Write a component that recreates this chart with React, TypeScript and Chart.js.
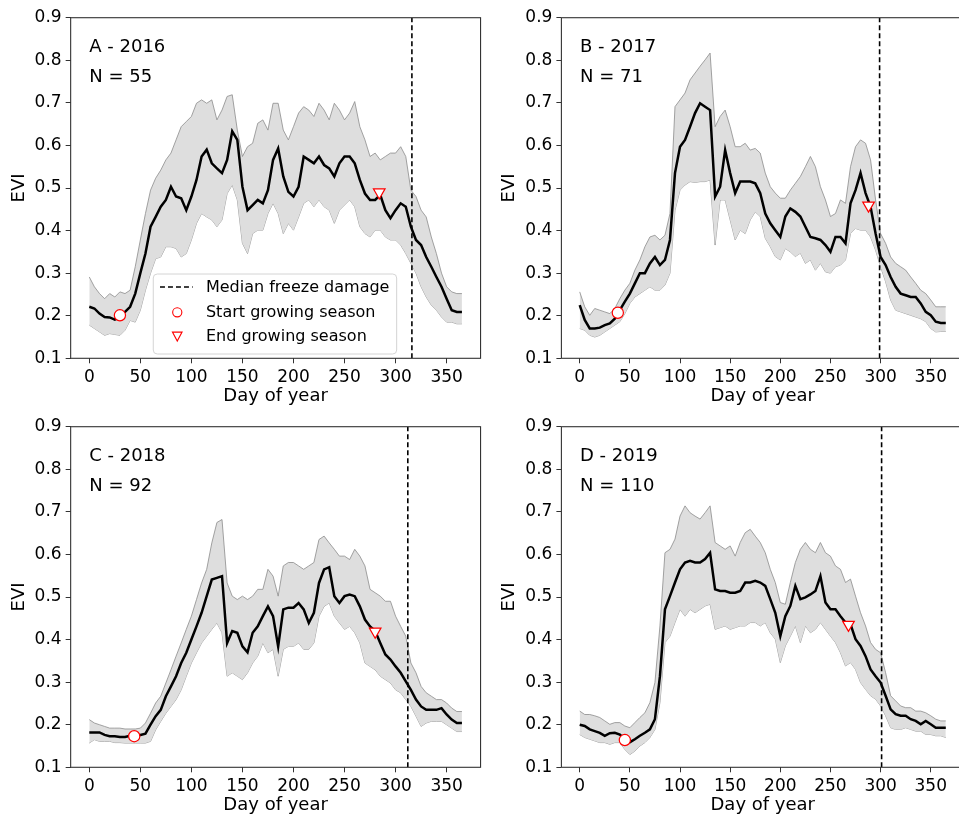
import React, { useEffect, useRef } from 'react';
import { Chart, registerables } from 'chart.js';

Chart.register(...registerables);

const FONT = '"DejaVu Sans", "Liberation Sans", sans-serif';

// ---------- data ----------
const DAYS = [
  0, 5, 10, 15, 20, 25, 30, 35, 40, 45,
  50, 55, 60, 65, 70, 75, 80, 85, 90, 95,
  100, 105, 110, 115, 120, 125, 130, 135, 140, 145,
  150, 155, 160, 165, 170, 175, 180, 185, 190, 195,
  200, 205, 210, 215, 220, 225, 230, 235, 240, 245,
  250, 255, 260, 265, 270, 275, 280, 285, 290, 295,
  300, 305, 310, 315, 320, 325, 330, 335, 340, 345,
  350, 355, 360, 365,
];

const X_TICKS = [0, 50, 100, 150, 200, 250, 300, 350];
const Y_TICKS = [0.1, 0.2, 0.3, 0.4, 0.5, 0.6, 0.7, 0.8, 0.9];

const PANEL_LABELS = ['A - 2016', 'B - 2017', 'C - 2018', 'D - 2019'];
const PANEL_N = [55, 71, 92, 110];
const FREEZE_DAY = [316, 299, 312, 301];
const START_DAY = [30, 38, 44, 45];
const START_EVI = [0.201, 0.207, 0.173, 0.164];
const END_DAY = [284, 288, 280, 268];
const END_EVI = [0.49, 0.459, 0.419, 0.435];

const LEGEND_LABELS = ['Median freeze damage', 'Start growing season', 'End growing season'];

const A_MEAN = [
  0.221, 0.217, 0.205, 0.197, 0.196, 0.191, 0.197, 0.209, 0.221, 0.252,
  0.30, 0.346, 0.409, 0.432, 0.456, 0.472, 0.503, 0.48, 0.476, 0.448,
  0.48, 0.519, 0.574, 0.59, 0.558, 0.546, 0.535, 0.566, 0.633, 0.613,
  0.503, 0.448, 0.46, 0.472, 0.464, 0.495, 0.566, 0.593, 0.527, 0.491,
  0.48, 0.503, 0.574, 0.566, 0.558, 0.574, 0.554, 0.546, 0.527, 0.558,
  0.574, 0.574, 0.558, 0.519, 0.487, 0.472, 0.472, 0.484, 0.448, 0.429,
  0.448, 0.464, 0.456, 0.409, 0.378, 0.366, 0.338, 0.315, 0.291, 0.268,
  0.24, 0.213, 0.209, 0.209,
];
const A_UPPER = [
  0.291, 0.268, 0.252, 0.24, 0.252, 0.244, 0.256, 0.252, 0.26, 0.315,
  0.378, 0.44, 0.495, 0.523, 0.542, 0.566, 0.582, 0.613, 0.644, 0.656,
  0.668, 0.699, 0.707, 0.699, 0.707, 0.66, 0.683, 0.715, 0.719, 0.636,
  0.574, 0.597, 0.605, 0.652, 0.66, 0.636, 0.699, 0.699, 0.636, 0.613,
  0.644, 0.676, 0.691, 0.683, 0.668, 0.699, 0.683, 0.66, 0.699, 0.683,
  0.66, 0.676, 0.703, 0.644, 0.613, 0.574, 0.582, 0.566, 0.574, 0.582,
  0.582, 0.597, 0.574, 0.495, 0.48, 0.448, 0.432, 0.385, 0.346, 0.30,
  0.268, 0.256, 0.252, 0.252,
];
const A_LOWER = [
  0.178, 0.17, 0.162, 0.154, 0.158, 0.156, 0.154, 0.166, 0.189, 0.185,
  0.213, 0.26, 0.30, 0.334, 0.338, 0.362, 0.362, 0.358, 0.338, 0.346,
  0.378, 0.417, 0.44, 0.432, 0.425, 0.409, 0.425, 0.487, 0.507, 0.472,
  0.37, 0.346, 0.393, 0.401, 0.401, 0.44, 0.464, 0.44, 0.393, 0.417,
  0.401, 0.432, 0.464, 0.472, 0.456, 0.472, 0.456, 0.448, 0.417, 0.448,
  0.46, 0.472, 0.456, 0.409, 0.393, 0.385, 0.401, 0.401, 0.385, 0.378,
  0.378, 0.366, 0.346, 0.323, 0.30, 0.268, 0.244, 0.225, 0.213, 0.197,
  0.185, 0.185, 0.181, 0.181,
];

const B_MEAN = [
  0.225, 0.19, 0.17, 0.17, 0.172, 0.178, 0.182, 0.193, 0.213, 0.233,
  0.252, 0.276, 0.30, 0.30, 0.323, 0.338, 0.319, 0.331, 0.378, 0.535,
  0.597, 0.613, 0.644, 0.676, 0.699, 0.691, 0.683, 0.48, 0.503, 0.589,
  0.535, 0.488, 0.515, 0.515, 0.515, 0.511, 0.488, 0.44, 0.417, 0.401,
  0.385, 0.433, 0.452, 0.444, 0.433, 0.409, 0.385, 0.382, 0.378, 0.366,
  0.35, 0.385, 0.385, 0.37, 0.464, 0.495, 0.535, 0.488, 0.456, 0.393,
  0.338, 0.319, 0.291, 0.268, 0.252, 0.248, 0.244, 0.244, 0.229, 0.209,
  0.201, 0.186, 0.183, 0.183,
];
const B_UPPER = [
  0.256, 0.221, 0.201, 0.217, 0.213, 0.209, 0.205, 0.217, 0.24, 0.26,
  0.276, 0.307, 0.331, 0.362, 0.385, 0.389, 0.378, 0.389, 0.44, 0.691,
  0.707, 0.723, 0.754, 0.77, 0.786, 0.801, 0.817, 0.644, 0.668, 0.683,
  0.644, 0.597, 0.597, 0.605, 0.589, 0.593, 0.582, 0.535, 0.503, 0.488,
  0.476, 0.476, 0.495, 0.511, 0.527, 0.55, 0.574, 0.55, 0.503, 0.472,
  0.433, 0.44, 0.472, 0.464, 0.55, 0.597, 0.613, 0.605, 0.566, 0.472,
  0.393, 0.37, 0.338, 0.323, 0.315, 0.307, 0.291, 0.276, 0.26, 0.252,
  0.237, 0.221, 0.221, 0.221,
];
const B_LOWER = [
  0.17, 0.166, 0.154, 0.15, 0.154, 0.162, 0.17, 0.178, 0.186, 0.205,
  0.229, 0.244, 0.252, 0.26, 0.268, 0.26, 0.26, 0.272, 0.30, 0.448,
  0.495, 0.507, 0.515, 0.513, 0.515, 0.515, 0.519, 0.366, 0.472, 0.472,
  0.425, 0.378, 0.401, 0.393, 0.425, 0.444, 0.433, 0.382, 0.362, 0.339,
  0.331, 0.358, 0.35, 0.339, 0.347, 0.323, 0.331, 0.307, 0.323, 0.303,
  0.30, 0.315, 0.319, 0.331, 0.393, 0.405, 0.401, 0.401, 0.385, 0.354,
  0.315, 0.28, 0.237, 0.213, 0.209, 0.205, 0.201, 0.197, 0.193, 0.186,
  0.17, 0.162, 0.163, 0.163,
];

const C_MEAN = [
  0.182, 0.182, 0.182, 0.176, 0.173, 0.173, 0.171, 0.171, 0.174, 0.173,
  0.176, 0.179, 0.2, 0.22, 0.235, 0.267, 0.29, 0.314, 0.345, 0.369,
  0.40, 0.431, 0.463, 0.502, 0.541, 0.545, 0.549, 0.392, 0.42, 0.416,
  0.384, 0.37, 0.416, 0.431, 0.455, 0.478, 0.455, 0.384, 0.471, 0.475,
  0.475, 0.486, 0.471, 0.439, 0.463, 0.533, 0.565, 0.57, 0.502, 0.486,
  0.502, 0.506, 0.502, 0.478, 0.447, 0.431, 0.42, 0.392, 0.365, 0.353,
  0.337, 0.322, 0.302, 0.282, 0.259, 0.243, 0.235, 0.235, 0.235, 0.239,
  0.224, 0.212, 0.204, 0.204,
];
const C_UPPER = [
  0.212, 0.204, 0.2, 0.196, 0.192, 0.192, 0.192, 0.19, 0.19, 0.19,
  0.192, 0.204, 0.227, 0.251, 0.267, 0.298, 0.329, 0.361, 0.392, 0.424,
  0.455, 0.494, 0.533, 0.565, 0.627, 0.675, 0.682, 0.533, 0.502, 0.494,
  0.502, 0.494, 0.502, 0.518, 0.518, 0.565, 0.549, 0.502, 0.573, 0.581,
  0.581, 0.573, 0.565, 0.573, 0.581, 0.635, 0.643, 0.627, 0.612, 0.596,
  0.596, 0.588, 0.612, 0.596, 0.573, 0.518, 0.51, 0.502, 0.49, 0.49,
  0.455, 0.431, 0.408, 0.345, 0.322, 0.29, 0.275, 0.267, 0.259, 0.259,
  0.251, 0.239, 0.231, 0.231,
];
const C_LOWER = [
  0.157, 0.165, 0.161, 0.161, 0.161, 0.158, 0.158, 0.157, 0.157, 0.157,
  0.157, 0.157, 0.161, 0.188, 0.208, 0.227, 0.243, 0.259, 0.282, 0.314,
  0.345, 0.369, 0.392, 0.408, 0.424, 0.439, 0.416, 0.314, 0.322, 0.314,
  0.306, 0.322, 0.345, 0.361, 0.392, 0.369, 0.377, 0.314, 0.377, 0.384,
  0.384, 0.392, 0.377, 0.377, 0.392, 0.455, 0.478, 0.486, 0.455, 0.439,
  0.424, 0.431, 0.416, 0.392, 0.345, 0.337, 0.329, 0.314, 0.306, 0.298,
  0.282, 0.275, 0.259, 0.243, 0.22, 0.196, 0.204, 0.208, 0.208, 0.208,
  0.2, 0.192, 0.184, 0.184,
];

const D_MEAN = [
  0.2, 0.197, 0.189, 0.185, 0.181, 0.174, 0.18, 0.181, 0.177, 0.166,
  0.159, 0.166, 0.174, 0.181, 0.189, 0.213, 0.314, 0.471, 0.502, 0.534,
  0.565, 0.581, 0.585, 0.581, 0.581, 0.589, 0.604, 0.518, 0.514, 0.514,
  0.51, 0.51, 0.514, 0.534, 0.534, 0.538, 0.534, 0.526, 0.495, 0.463,
  0.408, 0.455, 0.479, 0.526, 0.495, 0.499, 0.506, 0.514, 0.549, 0.487,
  0.471, 0.471, 0.455, 0.44, 0.436, 0.401, 0.385, 0.361, 0.33, 0.314,
  0.299, 0.268, 0.236, 0.225, 0.221, 0.221, 0.213, 0.209, 0.201, 0.209,
  0.201, 0.193, 0.193, 0.193,
];
const D_UPPER = [
  0.232, 0.224, 0.224, 0.221, 0.217, 0.209, 0.201, 0.205, 0.205, 0.197,
  0.193, 0.205, 0.217, 0.228, 0.252, 0.299, 0.432, 0.604, 0.612, 0.636,
  0.69, 0.714, 0.698, 0.69, 0.683, 0.698, 0.714, 0.628, 0.62, 0.612,
  0.62, 0.596, 0.628, 0.651, 0.659, 0.643, 0.628, 0.604, 0.565, 0.534,
  0.487, 0.483, 0.534, 0.581, 0.612, 0.628, 0.612, 0.604, 0.628, 0.604,
  0.596, 0.573, 0.565, 0.534, 0.542, 0.502, 0.463, 0.432, 0.393, 0.377,
  0.369, 0.322, 0.268, 0.256, 0.244, 0.24, 0.24, 0.232, 0.232, 0.228,
  0.221, 0.213, 0.209, 0.209,
];
const D_LOWER = [
  0.177, 0.17, 0.166, 0.162, 0.158, 0.158, 0.154, 0.158, 0.158, 0.142,
  0.13, 0.138, 0.15, 0.158, 0.17, 0.189, 0.252, 0.393, 0.408, 0.44,
  0.471, 0.455, 0.471, 0.463, 0.471, 0.479, 0.483, 0.424, 0.428, 0.432,
  0.424, 0.428, 0.432, 0.432, 0.44, 0.44, 0.432, 0.44, 0.416, 0.401,
  0.346, 0.385, 0.408, 0.432, 0.393, 0.432, 0.416, 0.424, 0.44, 0.424,
  0.408, 0.393, 0.369, 0.338, 0.346, 0.33, 0.299, 0.283, 0.268, 0.26,
  0.244, 0.221, 0.193, 0.189, 0.189, 0.193, 0.189, 0.185, 0.185, 0.177,
  0.177, 0.174, 0.174, 0.17,
];

const MEANS = [A_MEAN, B_MEAN, C_MEAN, D_MEAN];
const UPPERS = [A_UPPER, B_UPPER, C_UPPER, D_UPPER];
const LOWERS = [A_LOWER, B_LOWER, C_LOWER, D_LOWER];

// ---------- styling / layout ----------
const BAND_FILL = 'rgb(222,222,222)';
const BAND_EDGE = 'rgb(140,140,140)';
const FRAME = '#333333';
const RED = '#ff0000';

const PLOT_W = 409.9;
const PLOT_H = 340.6;
const CANVAS_H = 409;
const PANELS = [
  { left: 0, top: 0, yw: 70.66, width: 490 },
  { left: 490, top: 0, yw: 71.4, width: 482 },
  { left: 0, top: 409, yw: 70.66, width: 490 },
  { left: 490, top: 409, yw: 71.4, width: 482 },
];

const xy = (arr: number[]) => DAYS.map((d, i) => ({ x: d, y: arr[i] }));

const decorPlugin = {
  id: 'decor',
  afterDatasetsDraw(chart: any, _args: any, o: any) {
    const { ctx, chartArea: ca } = chart;
    ctx.save();
    ctx.strokeStyle = FRAME;
    ctx.lineWidth = 1.1;
    ctx.setLineDash([]);
    ctx.strokeRect(ca.left, ca.top, ca.right - ca.left, ca.bottom - ca.top);

    ctx.fillStyle = '#000';
    ctx.font = `18px ${FONT}`;
    ctx.textAlign = 'left';
    ctx.textBaseline = 'alphabetic';
    ctx.fillText(o.label, ca.left + 18.6, ca.top + 34.6);
    ctx.fillText(`N = ${o.n}`, ca.left + 18.6, ca.top + 64);

    if (o.legend) {
      const bx = ca.left + 82.6;
      const by = ca.top + 256.3;
      const bw = 243.4;
      const bh = 80;
      ctx.beginPath();
      (ctx as any).roundRect(bx, by, bw, bh, 4);
      ctx.fillStyle = 'rgba(255,255,255,0.8)';
      ctx.fill();
      ctx.strokeStyle = '#d4d4d4';
      ctx.lineWidth = 1;
      ctx.stroke();

      const rows = [by + 13, by + 38.3, by + 62.3];
      const hx = bx + 24;
      ctx.beginPath();
      ctx.setLineDash([5, 3]);
      ctx.strokeStyle = '#000';
      ctx.lineWidth = 1.6;
      ctx.moveTo(bx + 6.7, rows[0]);
      ctx.lineTo(bx + 39.4, rows[0]);
      ctx.stroke();
      ctx.setLineDash([]);
      ctx.beginPath();
      ctx.arc(hx, rows[1], 4.6, 0, Math.PI * 2);
      ctx.fillStyle = '#fff';
      ctx.fill();
      ctx.strokeStyle = RED;
      ctx.lineWidth = 1.1;
      ctx.stroke();
      ctx.beginPath();
      ctx.moveTo(hx - 4.8, rows[2] - 4.2);
      ctx.lineTo(hx + 4.8, rows[2] - 4.2);
      ctx.lineTo(hx, rows[2] + 4.8);
      ctx.closePath();
      ctx.fillStyle = '#fff';
      ctx.fill();
      ctx.strokeStyle = RED;
      ctx.stroke();

      ctx.fillStyle = '#000';
      ctx.font = `16px ${FONT}`;
      ctx.textBaseline = 'middle';
      LEGEND_LABELS.forEach((t, i) => ctx.fillText(t, bx + 52.7, rows[i] + 1));
    }
    ctx.restore();
  },
};

function Panel({ idx }: { idx: number }) {
  const ref = useRef<HTMLCanvasElement | null>(null);
  const p = PANELS[idx];
  useEffect(() => {
    if (!ref.current) return;
    const padRight = p.width - p.yw - PLOT_W;
    const chart = new Chart(ref.current, {
      type: 'line',
      data: {
        datasets: [
          {
            data: xy(LOWERS[idx]),
            borderColor: BAND_EDGE,
            borderWidth: 0.8,
            pointRadius: 0,
            fill: false,
            order: 6,
          },
          {
            data: xy(UPPERS[idx]),
            borderColor: BAND_EDGE,
            borderWidth: 0.8,
            backgroundColor: BAND_FILL,
            pointRadius: 0,
            fill: '-1',
            order: 5,
          },
          {
            data: [
              { x: FREEZE_DAY[idx], y: 0.1 },
              { x: FREEZE_DAY[idx], y: 0.9 },
            ],
            borderColor: '#000',
            borderWidth: 1.6,
            borderDash: [5, 3],
            pointRadius: 0,
            fill: false,
            order: 3,
          },
          {
            data: xy(MEANS[idx]),
            borderColor: '#000',
            borderWidth: 2.5,
            pointRadius: 0,
            fill: false,
            order: 2,
          },
          {
            data: [{ x: START_DAY[idx], y: START_EVI[idx] }],
            showLine: false,
            pointStyle: 'circle',
            pointRadius: 5.6,
            pointBorderColor: RED,
            pointBackgroundColor: '#fff',
            pointBorderWidth: 1.2,
            order: 0,
          },
          {
            data: [{ x: END_DAY[idx], y: END_EVI[idx] }],
            showLine: false,
            pointStyle: 'triangle',
            pointRotation: 180,
            pointRadius: 6.7,
            pointBorderColor: RED,
            pointBackgroundColor: '#fff',
            pointBorderWidth: 1.2,
            order: 0,
          },
        ] as any,
      },
      options: {
        animation: false,
        responsive: false,
        maintainAspectRatio: false,
        devicePixelRatio: 1,
        events: [],
        layout: { padding: { top: 17.7, right: padRight, bottom: 0, left: 0 } },
        plugins: {
          legend: { display: false },
          tooltip: { enabled: false },
          decor: { label: PANEL_LABELS[idx], n: PANEL_N[idx], legend: idx === 0 },
        } as any,
        scales: {
          x: {
            type: 'linear',
            min: -18.25,
            max: 383.25,
            afterBuildTicks: (s: any) => {
              s.ticks = X_TICKS.map((v) => ({ value: v }));
            },
            afterFit: (s: any) => {
              s.height = CANVAS_H - 17.7 - PLOT_H;
            },
            grid: { drawOnChartArea: false, drawTicks: true, tickLength: 5, tickColor: FRAME, tickWidth: 1 },
            border: { display: false },
            ticks: {
              color: '#000',
              font: { family: FONT, size: 17 },
              padding: 4,
              maxRotation: 0,
              autoSkip: false,
              callback: (v: any) => String(v),
            },
            title: {
              display: true,
              text: 'Day of year',
              color: '#000',
              font: { family: FONT, size: 18 },
              padding: { top: 0, bottom: 1.5 },
            },
          },
          y: {
            type: 'linear',
            min: 0.1,
            max: 0.9,
            afterBuildTicks: (s: any) => {
              s.ticks = Y_TICKS.map((v) => ({ value: v }));
            },
            afterFit: (s: any) => {
              s.width = p.yw;
            },
            grid: { drawOnChartArea: false, drawTicks: true, tickLength: 5, tickColor: FRAME, tickWidth: 1 },
            border: { display: false },
            ticks: {
              color: '#000',
              font: { family: FONT, size: 17 },
              padding: 4,
              autoSkip: false,
              callback: (v: any) => Number(v).toFixed(1),
            },
            title: {
              display: true,
              text: 'EVI',
              color: '#000',
              font: { family: FONT, size: 18 },
              padding: { top: 9, bottom: 0 },
            },
          },
        },
      },
      plugins: [decorPlugin],
    } as any);
    return () => chart.destroy();
  }, [idx]);
  return (
    <canvas
      ref={ref}
      width={p.width}
      height={CANVAS_H}
      style={{ position: 'absolute', left: p.left, top: p.top, width: p.width, height: CANVAS_H }}
    />
  );
}

export default function App() {
  return (
    <div
      style={{
        position: 'fixed',
        left: 0,
        top: 0,
        width: 959,
        height: 816,
        overflow: 'hidden',
        background: '#fff',
      }}
    >
      {[0, 1, 2, 3].map((i) => (
        <Panel key={i} idx={i} />
      ))}
    </div>
  );
}
